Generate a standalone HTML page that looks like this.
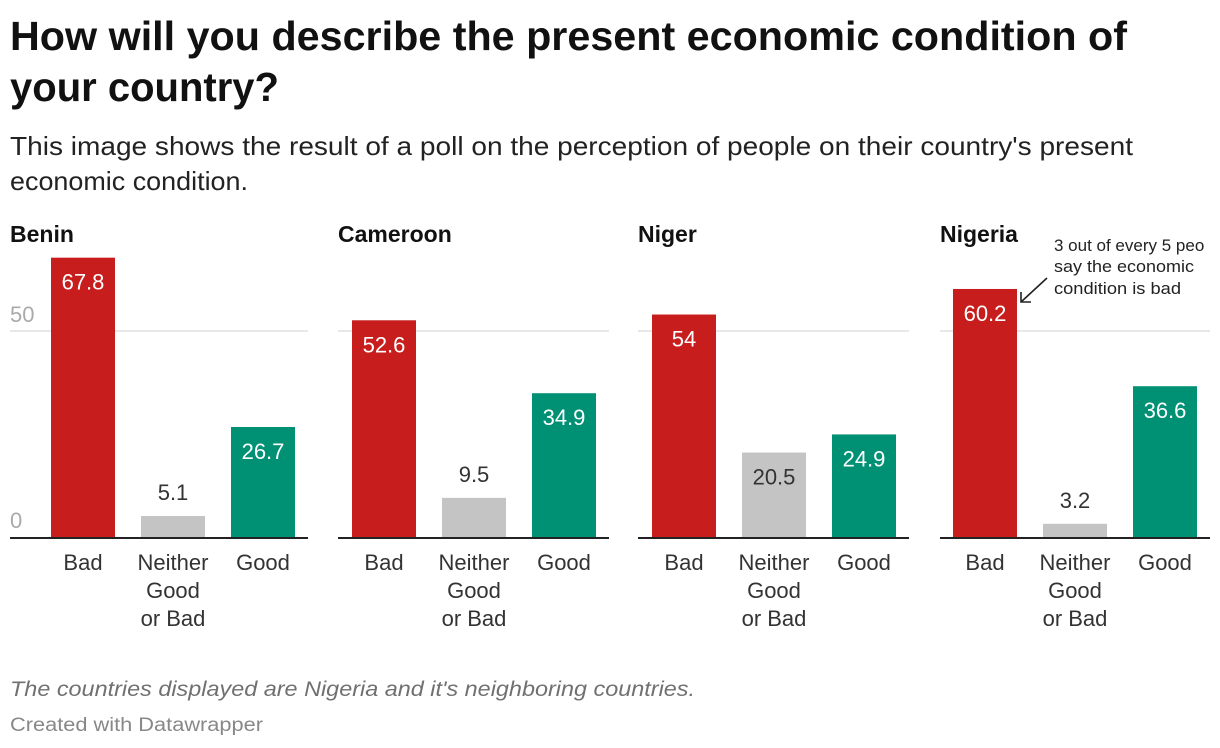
<!DOCTYPE html>
<html><head><meta charset="utf-8"><style>
body{margin:0;background:#fff;width:1220px;height:748px;overflow:hidden}
svg{display:block;font-family:"Liberation Sans",sans-serif}
</style></head><body>
<svg id="c" width="1220" height="748">
<text x="10" y="50" font-size="41" font-weight="bold" fill="#111" textLength="1117" lengthAdjust="spacingAndGlyphs">How will you describe the present economic condition of</text>
<text x="10" y="101" font-size="41" font-weight="bold" fill="#111" textLength="269" lengthAdjust="spacingAndGlyphs">your country?</text>
<text x="10" y="155" font-size="26" fill="#222" textLength="1123" lengthAdjust="spacingAndGlyphs">This image shows the result of a poll on the perception of people on their country's present</text>
<text x="10" y="190" font-size="26" fill="#222" textLength="238" lengthAdjust="spacingAndGlyphs">economic condition.</text>
<text x="10" y="696" font-size="21" font-style="italic" fill="#707070" textLength="685" lengthAdjust="spacingAndGlyphs">The countries displayed are Nigeria and it's neighboring countries.</text>
<text x="10" y="731" font-size="19" fill="#888" textLength="253" lengthAdjust="spacingAndGlyphs">Created with Datawrapper</text>
<text x="1054" y="251" font-size="17" fill="#222">3 out of every 5 peo</text>
<text x="1054" y="272" font-size="17" fill="#222" textLength="140" lengthAdjust="spacingAndGlyphs">say the economic</text>
<text x="1054" y="294" font-size="17" fill="#222" textLength="127" lengthAdjust="spacingAndGlyphs">condition is bad</text>
<g stroke="#222" stroke-width="1.6" fill="none"><line x1="1047" y1="278" x2="1021" y2="302"/><polyline points="1021,292 1021,302 1031,302"/></g>
</svg>
<script>
const countries=["Benin","Cameroon","Niger","Nigeria"];
const categories=["Bad","Neither Good or Bad","Good"];
const badVals=[67.8,52.6,54,60.2];
const neitherVals=[5.1,9.5,20.5,3.2];
const goodVals=[26.7,34.9,24.9,36.6];
const ticks=[0,50];
const panelX=[10,338,638,940], panelW=[298,271,271,270], barOff=[41,14,14,13];
const colors=["#c71e1d","#c4c4c4","#009175"];
const base=537, pxPer=206/50;
const y=v=>base-v*pxPer;
const svg=document.getElementById('c');
const NS="http://www.w3.org/2000/svg";
function mk(t,a,txt){const e=document.createElementNS(NS,t);for(const k in a)e.setAttribute(k,a[k]);if(txt!==undefined)e.textContent=txt;svg.appendChild(e);return e;}
countries.forEach((c,i)=>{
  const px=panelX[i];
  const t=mk('text',{x:px,y:242,'font-size':23,'font-weight':'bold',fill:'#111'},c);
  
  
  ticks.forEach(tv=>{
    if(tv>0){const g=mk('line',{x1:px,x2:px+panelW[i],y1:y(tv),y2:y(tv),stroke:'#e0e0e0','stroke-width':1.5});
    
    }
    if(i===0){const l=mk('text',{x:10,y:y(tv)-9,'font-size':22,fill:'#aaa'},String(tv));
    
    }
  });
  const vals=[badVals[i],neitherVals[i],goodVals[i]];
  vals.forEach((v,j)=>{
    const bx=px+barOff[i]+j*90, bw=64, top=y(v);
    const r=mk('rect',{x:bx,y:top,width:bw,height:base-top,fill:colors[j]});
    
    
    const inside=(base-top)>40;
    const lt=mk('text',{x:bx+bw/2,y:inside?top+32:top-16,'font-size':22,'text-anchor':'middle',fill:(inside&&j!==1)?'#fff':'#333'},String(v));
    
    
    const words=j===1?["Neither","Good","or Bad"]:[categories[j]];
    words.forEach((w,k)=>{
      const cl=mk('text',{x:bx+bw/2,y:570+k*28,'font-size':22,'text-anchor':'middle',fill:'#333'},w);
      
      
    });
  });
  const ax=mk('line',{x1:px,x2:px+panelW[i],y1:base+1,y2:base+1,stroke:'#222','stroke-width':2});
  
  
});
</script>
</body></html>
